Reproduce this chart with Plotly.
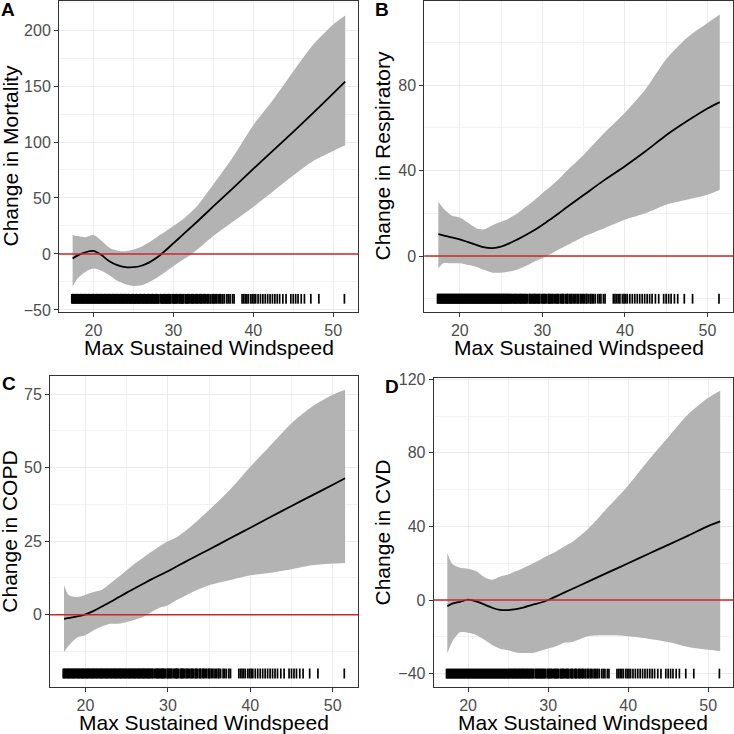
import plotly.graph_objects as go

# ---------------- data ----------------
windspeed = [17.4, 18, 19, 20, 21, 22, 23, 24, 25, 26, 27, 28, 29, 30, 31, 32, 33,
             35, 37.5, 40, 42.5, 45, 47.5, 50, 51.5]

mortality_fit = [-4, -1.5, 1.5, 2.8, -1, -6.5, -10, -11.7, -11.8, -10.5, -7.5, -3, 3,
                 9.5, 16, 22.5, 29, 42.5, 59, 76, 92.5, 109, 126, 143.5, 154]
mortality_upper = [17, 16, 15, 17, 12, 5.5, 3, 2.5, 4, 6.5, 10.5, 15.5, 20, 25, 30, 36, 43,
                   62, 87, 115, 138, 163, 187, 205, 213]
mortality_lower = [-29, -22, -16, -13, -15, -19, -24, -27, -28.5, -28, -25, -21, -16,
                   -11, -6, -1.5, 4, 16, 29, 42, 56, 70, 83, 92, 97]

respiratory_fit = [10.2, 9.7, 8.7, 7.8, 6.5, 5.2, 4, 3.7, 4.4, 5.9, 7.8, 9.8, 12, 14.5,
                   17.2, 20, 22.9, 28.5, 35.5, 42, 49, 56.5, 63, 69, 72]
respiratory_upper = [25.5, 22.3, 19, 18, 15.5, 13, 12.5, 14.5, 16, 17.7, 20, 23, 26, 29.4,
                     32.5, 36, 40, 47.3, 57.5, 67, 78, 92, 102, 109, 113]
respiratory_lower = [-5.8, -3.4, -3.4, -3.4, -4.2, -5, -6.6, -7.8, -7.8, -7.3, -6.3, -4.7,
                     -2.7, -1.1, 0.9, 3, 5, 9, 13, 17, 20, 24, 26.3, 28.6, 31]

copd_fit = [-1.4, -1.1, -0.6, 0.1, 1.3, 2.8, 4.3, 5.9, 7.5, 9, 10.5, 12, 13.4, 14.8,
            16.3, 17.8, 19.3, 22.2, 25.9, 29.6, 33.3, 37, 40.6, 44.2, 46.4]
copd_upper = [10, 6.6, 6, 6.8, 7.7, 8.5, 10.6, 12.8, 15.1, 17.4, 19.4, 21.4, 23.3, 25,
              26.3, 28.2, 30.5, 35.6, 42.4, 50.3, 57.7, 65.1, 70.8, 74.8, 76.5]
copd_lower = [-12.7, -10.5, -7.8, -7, -5.3, -4, -3.1, -3.1, -2.5, -1.7, -0.8, 0.9, 2.4,
              3.2, 4.9, 6.3, 7.7, 10, 11.7, 13.4, 14.3, 15.5, 16.8, 17.4, 17.6]

cvd_fit = [-3.4, -2, -1, 0.2, -0.7, -2.4, -4.2, -5.4, -5.5, -5, -4, -2.6, -1.5, 0,
           2, 4, 6, 10, 15, 20, 25, 30, 35, 40.2, 42.7]
cvd_upper = [25.5, 19.7, 17.5, 17, 15.7, 12.5, 11, 12.8, 13.9, 15.7, 17.6, 19.7, 21.9,
             24.3, 26.4, 29.1, 31.5, 38.7, 50.5, 62.3, 75.8, 88.5, 101, 110, 113.8]
cvd_lower = [-29.1, -22.8, -17.6, -17.8, -19, -21.5, -24.5, -26.5, -27.3, -28.5, -28.8,
             -28.8, -27.7, -26.4, -25.2, -23.3, -22.8, -19.7, -19.2, -19.7, -21, -22.8,
             -25.5, -27, -27.7]

# observed storm windspeeds (rug)
rug_windspeed = [
    17.3, 17.4, 17.5, 17.6, 17.7, 17.8, 17.9, 18.0, 18.1, 18.2, 18.3, 18.4, 18.5, 18.6,
    18.7, 18.8, 18.9, 19.0, 19.1, 19.2, 19.3, 19.4, 19.5, 19.6, 19.7, 19.8, 19.9, 20.0,
    20.1, 20.2, 20.3, 20.4, 20.5, 20.6, 20.7, 20.8, 20.9, 21.0, 21.1, 21.2, 21.3, 21.4,
    21.5, 21.6, 21.7, 21.8, 21.9, 22.0, 22.1, 22.2, 22.3, 22.4, 22.5, 22.6, 22.7, 22.8,
    22.9, 23.0, 23.1, 23.2, 23.3, 23.4, 23.5, 23.6, 23.7, 23.8, 23.9, 24.0, 24.1, 24.2,
    24.3, 24.4, 24.5, 24.6, 24.7, 24.8, 24.9, 25.0, 25.1, 25.2, 25.3, 25.4, 25.5, 25.6,
    25.7, 25.8, 25.9, 26.0, 26.1, 26.2, 26.3, 26.4, 26.5, 26.6, 26.7, 26.8, 26.9, 27.0,
    27.1, 27.2, 27.3, 27.4, 27.5, 27.6, 27.7, 27.8, 27.9, 28.0, 28.1, 28.2,
    28.4, 28.5, 28.6, 28.7, 28.8, 28.9, 29.0, 29.1, 29.2, 29.3, 29.4, 29.5, 29.6, 29.7,
    29.9, 30.0, 30.1, 30.2, 30.3, 30.4, 30.5, 30.7, 30.8, 30.9, 31.0, 31.1, 31.2, 31.3,
    31.5, 31.6, 31.7, 31.8, 31.9, 32.0, 32.2, 32.3, 32.4, 32.5, 32.6, 32.8, 32.9, 33.0,
    33.1, 33.3, 33.4, 33.5, 33.6, 33.8, 33.9, 34.0, 34.2, 34.3, 34.4, 34.6, 34.7, 34.9,
    35.0, 35.1, 35.3, 35.4, 35.6, 35.8, 35.9, 36.1, 36.2, 36.4, 36.7, 36.9, 37.1, 37.4,
    37.6,
    38.6, 38.8, 39.0, 39.2, 39.4, 39.7, 39.9, 40.1, 40.3, 40.6, 40.9, 41.2, 41.5, 41.8,
    42.1, 42.4, 42.7, 43.0, 43.3, 43.7, 44.1, 44.7, 45.0, 45.3, 45.6, 46.0, 46.4, 47.2,
    48.2, 51.4,
]

panel_letters = ["A", "B", "C", "D"]
y_titles = ["Change in Mortality", "Change in Respiratory", "Change in COPD", "Change in CVD"]
x_title = "Max Sustained Windspeed"
rug_levels = [-40, -20, -20, -40]
fits = [mortality_fit, respiratory_fit, copd_fit, cvd_fit]
uppers = [mortality_upper, respiratory_upper, copd_upper, cvd_upper]
lowers = [mortality_lower, respiratory_lower, copd_lower, cvd_lower]

# ---------------- layout geometry (pixels in a 734 x 734 canvas) ----------------
W = H = 734
boxes = [  # left, right, top, bottom
    (59, 358, 1, 312),
    (424.3, 733, 1, 312),
    (50, 358.3, 376.3, 687),
    (433.7, 733, 378, 687),
]
y_ranges = [[-51.8, 225.9], [-26.2, 119.3], [-24.6, 81.1], [-47.3, 120.7]]
y_dticks = [50, 40, 25, 40]
x_range = [15.7, 53.1]

FONT = "Liberation Sans, Arial, Helvetica, sans-serif"
RIBBON = "#B3B3B3"
REDLINE = "#C8282C"

fig = go.Figure()
layout = dict(
    width=W, height=H, margin=dict(l=0, r=0, t=0, b=0, autoexpand=False),
    paper_bgcolor="white", plot_bgcolor="white", showlegend=False,
    font=dict(family=FONT),
)
annotations = []
shapes = []

for i in range(4):
    sfx = "" if i == 0 else str(i + 1)
    xa, ya = "x" + sfx, "y" + sfx
    l, r, t, b = boxes[i]

    # ribbon
    fig.add_trace(go.Scatter(x=windspeed, y=lowers[i], mode="lines",
                             line=dict(width=0, shape="spline", smoothing=0.8),
                             xaxis=xa, yaxis=ya, hoverinfo="skip"))
    fig.add_trace(go.Scatter(x=windspeed, y=uppers[i], mode="lines", fill="tonexty",
                             fillcolor=RIBBON,
                             line=dict(width=0, shape="spline", smoothing=0.8),
                             xaxis=xa, yaxis=ya, hoverinfo="skip"))
    # fitted line
    fig.add_trace(go.Scatter(x=windspeed, y=fits[i], mode="lines",
                             line=dict(color="black", width=1.8, shape="spline", smoothing=0.8),
                             xaxis=xa, yaxis=ya))
    # rug
    fig.add_trace(go.Scatter(x=rug_windspeed, y=[rug_levels[i]] * len(rug_windspeed),
                             mode="markers",
                             marker=dict(symbol="line-ns", size=7,
                                         line=dict(width=1.7, color="black")),
                             xaxis=xa, yaxis=ya, hoverinfo="skip"))

    common = dict(
        showline=True, mirror=True, linecolor="#333333", linewidth=1,
        ticks="outside", ticklen=4, tickwidth=1, tickcolor="#333333",
        showgrid=True, gridcolor="#EBEBEB", gridwidth=1, zeroline=False,
        automargin=False,
        tickfont=dict(family=FONT, size=16, color="#4D4D4D"),
    )
    layout["xaxis" + sfx] = dict(
        common, domain=[l / W, r / W], anchor=ya, range=x_range,
        tick0=0, dtick=10,
        minor=dict(dtick=5, showgrid=True, gridcolor="#F2F2F2", gridwidth=1),
    )
    layout["yaxis" + sfx] = dict(
        common, domain=[1 - b / H, 1 - t / H], anchor=xa, range=y_ranges[i],
        tick0=0, dtick=y_dticks[i],
        minor=dict(dtick=y_dticks[i] / 2, showgrid=True, gridcolor="#F2F2F2", gridwidth=1),
    )

    # zero reference line
    shapes.append(dict(type="line", xref=xa + " domain", yref=ya, x0=0, x1=1, y0=0, y1=0,
                       line=dict(color=REDLINE, width=1.6), layer="above"))

    # titles
    cx = (l + r) / 2
    cy = (t + b) / 2
    annotations.append(dict(text=x_title, xref="paper", yref="paper",
                            x=cx / W, y=1 - (b + 35) / H, xanchor="center", yanchor="middle",
                            showarrow=False, font=dict(family=FONT, size=21, color="black")))
    ytx = 10 if i % 2 == 0 else 382
    annotations.append(dict(text=y_titles[i], xref="paper", yref="paper",
                            x=ytx / W, y=1 - cy / H, xanchor="center", yanchor="middle",
                            textangle=-90, showarrow=False,
                            font=dict(family=FONT, size=21, color="black")))

letter_pos = [(8, 10), (382, 10), (9, 383), (392, 387)]
for letter, (px, py) in zip(panel_letters, letter_pos):
    annotations.append(dict(text="<b>" + letter + "</b>", xref="paper", yref="paper",
                            x=px / W, y=1 - py / H, xanchor="center", yanchor="middle",
                            showarrow=False, font=dict(family=FONT, size=19, color="black")))

layout["annotations"] = annotations
layout["shapes"] = shapes
fig.update_layout(**layout)
fig.write_html("out.html", config={"displayModeBar": False},
               post_script="document.body.style.margin='0';document.body.style.padding='0';")
